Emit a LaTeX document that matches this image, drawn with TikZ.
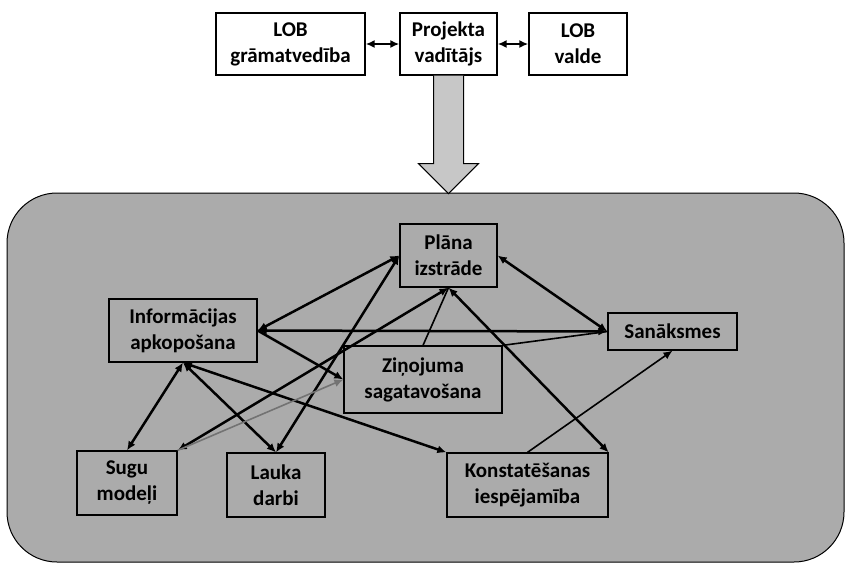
\documentclass[tikz,border=0pt]{standalone}
\usepackage{fontspec}
\setmainfont{Carlito}
\usepackage{tikz}
\usetikzlibrary{arrows.meta}
\tikzset{>={Latex[width=8pt,length=9pt]}}
\definecolor{field}{gray}{0.67}
\definecolor{shaft}{gray}{0.78}
\tikzset{
  box/.style={draw, line width=1.3pt, align=center, inner sep=0pt,
    font=\bfseries\fontsize{21}{26}\selectfont},
  topbox/.style={box, fill=white},
  link/.style={<->, line width=2.5pt},
  onelink/.style={->, line width=2.5pt},
  faintlink/.style={line width=1.6pt},
}

\begin{document}
\begin{tikzpicture}[x=1pt, y=-1pt]
  \useasboundingbox (0,0) rectangle (849,566);

  % field
  \draw[fill=field, line width=1pt, rounded corners=50pt] (7,193) rectangle (844,562);

  % top row
  \node[topbox, minimum width=149pt, minimum height=62pt] (gram) at (290.5,44) {LOB\\grāmatvedība};
  \node[topbox, minimum width=97pt, minimum height=62pt] (proj) at (448.5,44) {Projekta\\vadītājs};
  \node[topbox, minimum width=98pt, minimum height=62pt] (valde) at (578,44) {LOB\\valde};

  \draw[link] (gram) -- (proj); % gram<->proj
  \draw[link] (proj) -- (valde); % proj<->valde

  % big arrow down
  \draw[fill=shaft, line width=1pt] (proj.south) ++(-15,0) -- ++(0,88) -- ++(-15,0)
    -- ++(30,30) -- ++(30,-30) -- ++(-15,0) -- ++(0,-88);

  % inner boxes
  \node[box, minimum width=97pt, minimum height=63pt] (plana) at (448.5,255.5) {Plāna\\izstrāde};
  \node[box, minimum width=148pt, minimum height=63pt] (info) at (183,330.5) {Informācijas\\apkopošana};
  \node[box, minimum width=158pt, minimum height=67pt] (zin) at (423,379.5) {Ziņojuma\\sagatavošana};
  \node[box, minimum width=129pt, minimum height=37pt] (san) at (672.5,331.5) {Sanāksmes};
  \node[box, minimum width=100pt, minimum height=64pt] (sugu) at (127,483) {Sugu\\modeļi};
  \node[box, minimum width=98pt, minimum height=64pt] (lauka) at (276,485) {Lauka\\darbi};
  \node[box, minimum width=161pt, minimum height=64pt] (konst) at (527.5,485) {Konstatēšanas\\iespējamība};

  \draw[link] (info.east) -- (plana.west); % info<->plana
  \draw[link] (info.east) -- (san.west); % info<->san
  \draw[onelink] (info.east) -- (zin.west); % info->zin
  \draw[link] (info.south) -- (sugu.north); % info<->sugu
  \draw[link] (info.south) -- (lauka.north); % info<->lauka
  \draw[link] (info.south) -- (konst.north west); % info<->konst

  \draw[link] (plana.east) -- (san.west); % plana<->san
  \draw[link] (plana.south) -- (sugu.north east); % plana<->sugu
  \draw[link] (plana.west) -- (lauka.north); % plana<->lauka
  \draw[link] (plana.south) -- (konst.north east); % plana<->konst
  \draw[faintlink] (plana.south) -- (zin.north); % plana-zin

  \draw[->, faintlink, draw=black!55] (sugu.north east) -- (zin.west); % sugu->zin
  \draw[->, faintlink] (konst.north) -- (san.south); % konst->san
  \draw[faintlink] (zin.north east) -- (san.west); % zin-san

\end{tikzpicture}
\end{document}
